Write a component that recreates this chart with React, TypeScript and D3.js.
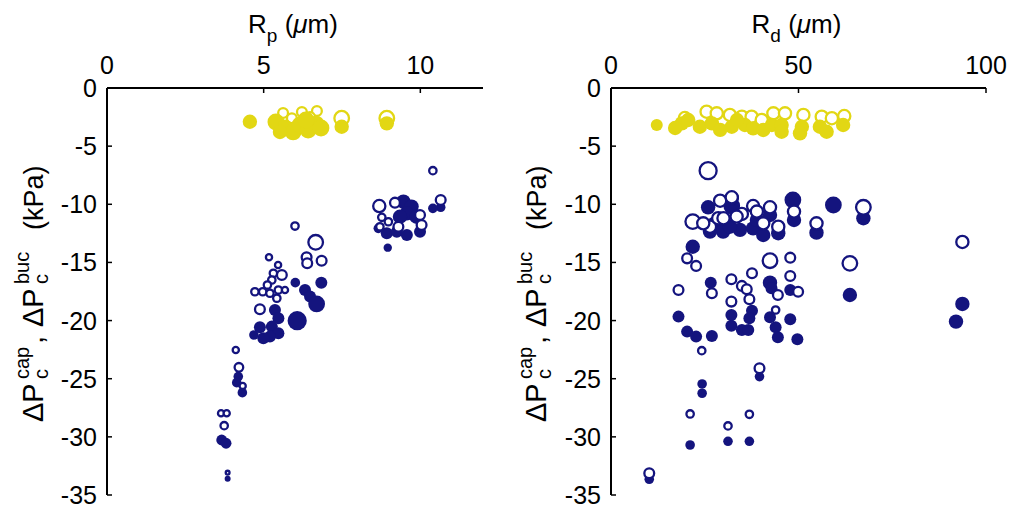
import React from "react";
import * as d3 from "d3";

// ---- data: [x, y, markerSize] ----
const leftBlueOpen: [number, number, number][] = [
  [6.66, -13.27, 7], [6.37, -14.56, 5], [6.39, -15.07, 5], [6.85, -14.85, 5], [5.17, -14.56, 3.5],
  [5.46, -15.22, 3.5], [5.58, -16.08, 5], [5.31, -15.93, 4], [5.26, -16.51, 4], [5.12, -16.94, 4],
  [5.47, -17.37, 4], [5.68, -17.37, 3.5], [4.72, -17.52, 4], [4.97, -17.52, 4], [5.2, -17.65, 4],
  [5.42, -18.08, 4], [4.88, -19.03, 5], [4.11, -22.53, 3.5], [4.21, -24.02, 4.5], [4.33, -25.62, 3.5],
  [3.64, -27.97, 3.5], [3.82, -27.97, 3.5], [3.74, -29.04, 4], [3.85, -33.08, 2.5],
  [10.4, -7.11, 4], [10.65, -9.63, 5], [8.69, -10.15, 6], [9.19, -9.86, 5], [9.99, -10.92, 5],
  [8.77, -11.12, 4], [8.98, -11.5, 4], [8.71, -11.93, 4], [9.3, -11.93, 5], [10.04, -11.78, 5],
  [6.0, -11.87, 4],
];
const leftBlueFilled: [number, number, number][] = [
  [6.01, -16.74, 4], [6.84, -16.74, 5], [6.32, -17.37, 5], [6.48, -17.94, 5], [6.69, -18.57, 7],
  [6.07, -20.01, 8], [5.36, -19.09, 5], [5.47, -19.8, 5], [5.26, -20.52, 5], [4.88, -20.58, 5],
  [5.47, -21.09, 5], [5.2, -21.38, 5], [4.99, -21.52, 5], [4.69, -21.24, 4], [4.19, -24.82, 4],
  [4.14, -25.34, 4], [4.32, -26.2, 4], [3.66, -30.27, 4.5], [3.8, -30.55, 4.5], [3.85, -33.6, 2.5],
  [10.65, -10.26, 4], [10.4, -10.35, 4], [9.46, -9.77, 6], [9.72, -10.2, 6], [9.57, -10.78, 6],
  [9.35, -11.07, 6], [9.88, -11.07, 6], [8.66, -12.07, 4], [8.93, -12.5, 5], [9.25, -12.36, 5],
  [9.57, -12.64, 5], [9.99, -12.36, 5], [8.96, -13.73, 3.5],
];
const leftYellowOpen: [number, number, number][] = [
  [5.62, -2.15, 5], [6.22, -2.06, 5], [6.7, -1.98, 5], [7.49, -2.6, 7], [8.93, -2.6, 7],
  [5.9, -2.6, 5], [6.48, -2.5, 5],
];
const leftYellowFilled: [number, number, number][] = [
  [4.56, -2.9, 6], [5.39, -2.92, 7], [5.68, -3.44, 7], [5.94, -3.78, 7], [6.16, -3.18, 7],
  [6.42, -3.61, 7], [6.67, -3.1, 7], [6.83, -3.44, 7], [5.52, -3.78, 6], [6.35, -2.75, 7],
  [7.49, -3.33, 6], [8.93, -3.04, 6],
];

const rightBlueOpen: [number, number, number][] = [
  [25.9, -7.11, 8], [21.8, -11.49, 7], [29.1, -9.69, 6], [32.2, -9.4, 6], [34.9, -10.83, 6],
  [37.9, -10.15, 6], [38.9, -10.63, 6], [42.4, -10.26, 6], [48.8, -10.63, 6], [67.3, -10.26, 7],
  [54.8, -11.64, 6], [93.7, -13.24, 6], [26.4, -11.93, 6], [28.6, -11.2, 6], [33.5, -11.06, 6],
  [44.6, -11.93, 6], [40.6, -11.64, 6], [24.6, -11.64, 6], [30.0, -11.2, 6],
  [20.3, -14.65, 5], [22.7, -15.3, 5], [18.0, -17.37, 5], [26.9, -17.65, 5], [24.2, -22.59, 4],
  [21.1, -28.03, 4], [10.2, -33.13, 5], [32.1, -16.45, 5], [32.1, -18.37, 5], [34.9, -17.02, 5],
  [36.2, -17.31, 5], [36.9, -18.17, 5], [37.6, -15.93, 5], [42.4, -14.85, 7], [44.5, -17.8, 5],
  [43.9, -19.09, 4], [47.8, -14.59, 5], [47.8, -16.17, 5], [49.9, -17.52, 5], [63.7, -15.08, 7],
  [39.6, -24.1, 5], [31.2, -29.06, 4], [36.9, -28.06, 4],
];
const rightBlueFilled: [number, number, number][] = [
  [25.9, -10.26, 6], [32.2, -10.15, 7], [42.4, -10.92, 6], [48.5, -9.63, 7], [48.8, -11.35, 6],
  [59.3, -10.06, 7], [67.3, -11.2, 6], [54.8, -12.44, 6], [27.7, -11.64, 6], [29.9, -12.35, 6],
  [34.4, -12.2, 6], [37.9, -12.07, 6], [40.6, -12.64, 6], [44.6, -12.49, 6], [31.7, -11.93, 6],
  [26.4, -12.35, 6], [38.9, -11.35, 6], [21.8, -13.65, 6], [32.2, -9.49, 6],
  [18.0, -19.66, 5], [20.3, -20.95, 5], [22.7, -21.38, 5], [26.9, -21.32, 5], [26.6, -16.74, 5],
  [24.3, -25.45, 4], [24.3, -26.25, 4], [21.1, -30.7, 4], [10.2, -33.65, 4], [32.1, -19.52, 5],
  [32.1, -20.44, 5], [37.6, -19.15, 5], [36.9, -19.8, 5], [34.9, -20.81, 5], [36.6, -20.81, 5],
  [42.4, -16.74, 6], [42.8, -17.22, 5], [42.4, -19.72, 5], [43.9, -20.58, 5], [44.5, -21.44, 5],
  [47.8, -17.37, 5], [47.8, -19.89, 5], [49.7, -21.61, 5], [63.7, -17.8, 6], [93.7, -18.57, 6],
  [92.0, -20.09, 6], [39.6, -24.82, 4], [31.2, -30.38, 4], [36.9, -30.38, 4],
];
const rightYellowOpen: [number, number, number][] = [
  [25.5, -2.04, 6], [28.2, -2.18, 6], [31.7, -2.32, 6], [34.9, -2.47, 6], [37.5, -2.47, 6],
  [40.2, -2.75, 6], [43.3, -2.18, 6], [46.4, -2.18, 6], [51.3, -2.32, 6], [56.2, -2.47, 6],
  [58.9, -2.6, 6], [62.2, -2.41, 6], [19.7, -2.58, 6],
];
const rightYellowFilled: [number, number, number][] = [
  [12.2, -3.18, 5], [18.9, -3.04, 6], [20.6, -2.75, 6], [23.7, -3.33, 6], [26.9, -3.04, 6],
  [32.2, -3.33, 6], [35.7, -3.18, 6], [37.9, -3.47, 6], [40.6, -3.61, 6], [42.9, -3.18, 6],
  [45.5, -3.18, 6], [45.5, -3.76, 6], [50.9, -3.33, 6], [50.4, -3.9, 6], [55.7, -3.33, 6],
  [57.5, -3.76, 6], [61.9, -3.18, 6], [17.1, -3.44, 6], [29.1, -3.6, 6], [33.6, -2.75, 6],
];

const yTicks = [0, -5, -10, -15, -20, -25, -30, -35];
const leftXTicks = [0, 5, 10];
const rightXTicks = [0, 50, 100];

const NAVY = "#14147e";
const YELLOW = "#e2d714";
const FONT = "Liberation Sans, Arial, sans-serif";

const yScale = d3.scaleLinear().domain([0, -35]).range([88, 495]);
const rScale = d3.scaleLinear().domain([0, 8]).range([0, 9.6]);

function Panel({
  x, xTicks, sub, blueOpen, blueFilled, yellowOpen, yellowFilled, labelX,
}: any) {
  const [x0, x1] = x.range();
  const [y0, y1] = yScale.range();
  const dots = (data: [number, number, number][], open: boolean, color: string, key: string) =>
    data.map((d, i) => (
      <circle
        key={key + i}
        cx={x(d[0])}
        cy={yScale(d[1])}
        r={open ? rScale(d[2]) - 1.1 : rScale(d[2])}
        fill={open ? "#fff" : color}
        stroke={open ? color : "none"}
        strokeWidth={open ? 2.3 : 0}
      />
    ));
  const titleX = (x0 + x1) / 2 - 2;
  const lx = labelX;
  return (
    <g>
      {/* axes */}
      <line x1={x0} x2={x1} y1={y0} y2={y0} stroke="#000" strokeWidth={2} />
      <line x1={x0} x2={x0} y1={y0} y2={y1} stroke="#000" strokeWidth={2} />
      {xTicks.map((t: number) => (
        <g key={"xt" + t}>
          <line x1={x(t)} x2={x(t)} y1={y0} y2={y0 + 5} stroke="#000" strokeWidth={1.5} />
          <text x={x(t)} y={y0 - 14} textAnchor="middle" fontSize={25} fontFamily={FONT}>{t}</text>
        </g>
      ))}
      {yTicks.map((t) => (
        <g key={"yt" + t}>
          <line x1={x0} x2={x0 + 5} y1={yScale(t)} y2={yScale(t)} stroke="#000" strokeWidth={1.5} />
          <text x={x0 - 10} y={yScale(t) + 9} textAnchor="end" fontSize={25} fontFamily={FONT}>{t}</text>
        </g>
      ))}
      {/* top title */}
      <text x={titleX} y={33} textAnchor="middle" fontSize={26} fontFamily={FONT}>
        R<tspan fontSize={19} dy={9}>{sub}</tspan>
        <tspan dy={-9}> (</tspan><tspan fontStyle="italic">μ</tspan>m)
      </text>
      {/* y label */}
      <g transform={`translate(${lx},422) rotate(-90)`} fontFamily={FONT}>
        <text x={0} y={0} fontSize={29}>ΔP</text>
        <text x={43} y={-14} fontSize={20}>cap</text>
        <text x={43} y={5} fontSize={20}>c</text>
        <text x={78} y={0} fontSize={29}>,</text>
        <text x={95} y={0} fontSize={29}>ΔP</text>
        <text x={138} y={-14} fontSize={20}>buc</text>
        <text x={138} y={5} fontSize={20}>c</text>
        <text x={192} y={0} fontSize={27}>(kPa)</text>
      </g>
      {/* markers */}
      {dots(yellowOpen, true, YELLOW, "yo")}
      {dots(yellowFilled, false, YELLOW, "yf")}
      {dots(blueFilled, false, NAVY, "bf")}
      {dots(blueOpen, true, NAVY, "bo")}
    </g>
  );
}

export default function App() {
  const xLeft = d3.scaleLinear().domain([0, 12]).range([107, 483]);
  const xRight = d3.scaleLinear().domain([0, 100]).range([611, 986]);
  return (
    <div style={{ position: "absolute", left: 0, top: 0 }}>
      <svg width={1013} height={518} style={{ display: "block", background: "#fff" }}>
        <Panel x={xLeft} xTicks={leftXTicks} sub="p" labelX={43}
          blueOpen={leftBlueOpen} blueFilled={leftBlueFilled}
          yellowOpen={leftYellowOpen} yellowFilled={leftYellowFilled} />
        <Panel x={xRight} xTicks={rightXTicks} sub="d" labelX={546}
          blueOpen={rightBlueOpen} blueFilled={rightBlueFilled}
          yellowOpen={rightYellowOpen} yellowFilled={rightYellowFilled} />
      </svg>
    </div>
  );
}
